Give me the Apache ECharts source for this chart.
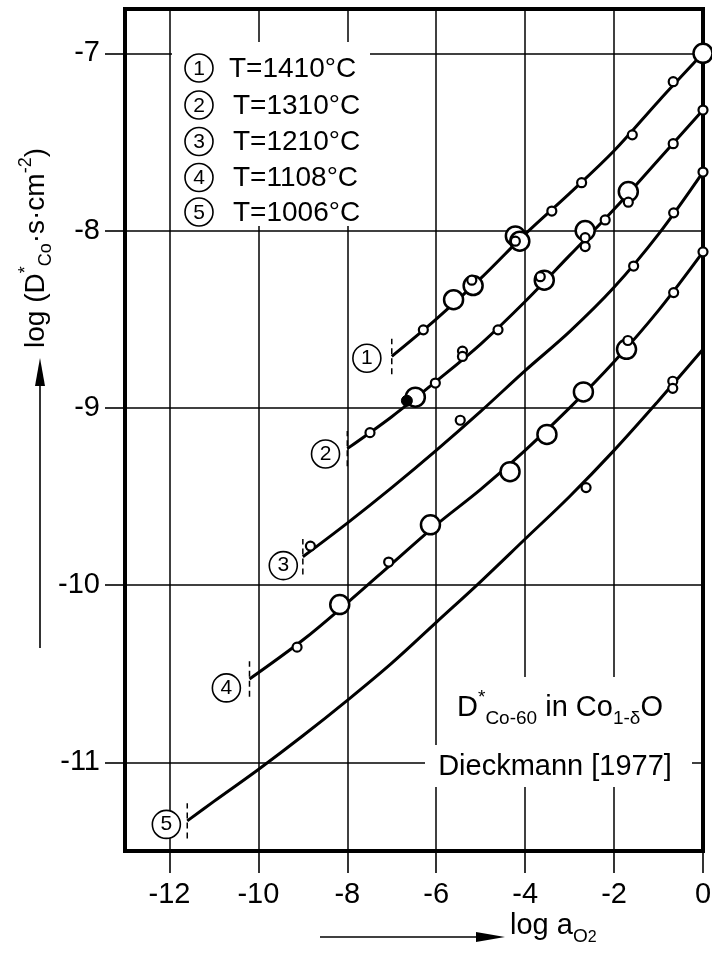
<!DOCTYPE html>
<html><head><meta charset="utf-8">
<script src="https://cdn.jsdelivr.net/npm/echarts@6/dist/echarts.min.js"></script>
<style>html,body{margin:0;padding:0;background:#fff}#c{width:712px;height:953px}</style>
</head><body><div id="c"></div>
<script>
// ---------- data ----------
const xTicks = [-12, -10, -8, -6, -4, -2, 0];
const yTicks = [-11, -10, -9, -8, -7];

// fitted curves (log a_O2 , log D*)
const curve1X = [-7, -6, -5, -4, -3, -2, -1, 0];
const curve1Y = [-8.71, -8.50, -8.27, -8.02, -7.79, -7.55, -7.27, -7.0];
const curve2X = [-8, -7, -6, -5, -4, -3, -2, -1, 0];
const curve2Y = [-9.23, -9.05, -8.85, -8.64, -8.40, -8.14, -7.88, -7.60, -7.32];
const curve3X = [-9, -8, -7, -6, -5, -4, -3, -2, -1, 0];
const curve3Y = [-9.84, -9.65, -9.45, -9.24, -9.02, -8.79, -8.57, -8.32, -8.02, -7.67];
const curve4X = [-10.2, -9, -8, -7, -6, -5, -4, -3, -2, -1, 0];
const curve4Y = [-10.53, -10.31, -10.10, -9.88, -9.66, -9.46, -9.24, -9.00, -8.74, -8.45, -8.12];
const curve5X = [-11.6, -11, -10, -9, -8, -7, -6, -5, -4, -3, -2, -1, 0];
const curve5Y = [-11.33, -11.22, -11.04, -10.85, -10.65, -10.44, -10.21, -9.98, -9.74, -9.50, -9.24, -8.96, -8.67];

// measured points
const c1Small = [[-0.67,-7.16],[-1.59,-7.46],[-2.73,-7.73],[-3.40,-7.89],[-4.22,-8.06],[-5.20,-8.28],[-6.29,-8.56]];
const c1Big = [[0,-7.0],[-4.22,-8.03],[-4.12,-8.06],[-5.17,-8.31],[-5.61,-8.39]];
const c2Small = [[0,-7.32],[-0.67,-7.51],[-1.68,-7.84],[-2.20,-7.94],[-2.65,-8.04],[-2.65,-8.09],[-3.66,-8.26],[-4.61,-8.56],[-5.41,-8.68],[-5.41,-8.71],[-6.02,-8.86],[-7.49,-9.14]];
const c2Big = [[-1.68,-7.78],[-2.65,-8.00],[-3.57,-8.28],[-6.47,-8.94]];
const c2Filled = [[-6.66,-8.96]];
const c3Small = [[0,-7.67],[-0.66,-7.90],[-1.56,-8.20],[-5.46,-9.07],[-8.83,-9.78]];
const c4Small = [[0,-8.12],[-0.66,-8.35],[-1.69,-8.62],[-7.07,-9.87],[-9.13,-10.35]];
const c4Big = [[-1.72,-8.67],[-2.69,-8.91],[-3.51,-9.15],[-4.34,-9.36],[-6.13,-9.66],[-8.17,-10.11]];
const c5Small = [[-0.68,-8.85],[-0.68,-8.89],[-2.63,-9.45]];

// curve number tags
const tagX = [-7.56, -8.49, -9.44, -10.72, -12.07];
const tagY = [-8.72, -9.26, -9.89, -10.58, -11.35];
const tagText = ['1', '2', '3', '4', '5'];

// legend
const legendNums = ['1', '2', '3', '4', '5'];
const legendTemps = ['T=1410°C', 'T=1310°C', 'T=1210°C', 'T=1108°C', 'T=1006°C'];

// ---------- build ----------
const FONT = 'Liberation Sans';
const curvesX = [curve1X, curve2X, curve3X, curve4X, curve5X];
const curvesY = [curve1Y, curve2Y, curve3Y, curve4Y, curve5Y];
const zip = (xs, ys) => xs.map((x, i) => [x, ys[i]]);

const series = [];
curvesX.forEach((xs, k) => {
  series.push({
    type: 'line', data: zip(xs, curvesY[k]), smooth: 0.35, symbol: 'none',
    lineStyle: { color: '#000', width: 3 }, z: 3, clip: false, silent: true
  });
  const x0 = xs[0], y0 = curvesY[k][0];
  series.push({
    type: 'line', data: [[x0, y0 - 0.1], [x0, y0 + 0.1]], symbol: 'none',
    lineStyle: { color: '#000', width: 1.5, type: [6, 4] }, z: 3, clip: false, silent: true
  });
});
const big = (d) => ({ type: 'scatter', data: d, symbolSize: 19, clip: false, z: 4, silent: true,
  itemStyle: { color: '#fff', borderColor: '#000', borderWidth: 2.5, opacity: 1 } });
const small = (d) => ({ type: 'scatter', data: d, symbolSize: 9, clip: false, z: 5, silent: true,
  itemStyle: { color: '#fff', borderColor: '#000', borderWidth: 2.2, opacity: 1 } });
[c1Big, c2Big, c4Big].forEach(d => series.push(big(d)));
[c1Small, c2Small, c3Small, c4Small, c5Small].forEach(d => series.push(small(d)));
series.push({ type: 'scatter', data: c2Filled, symbolSize: 11, clip: false, z: 6, silent: true,
  itemStyle: { color: '#000', borderColor: '#000', borderWidth: 1, opacity: 1 } });
series.push({
  type: 'scatter', clip: false, z: 6, symbolSize: 28, silent: true,
  data: tagX.map((x, i) => ({ value: [x, tagY[i]], name: tagText[i] })),
  itemStyle: { color: '#fff', borderColor: '#000', borderWidth: 1.6, opacity: 1 },
  label: { show: true, position: 'inside', formatter: p => p.name, color: '#000',
    fontSize: 21, fontFamily: FONT }
});

// legend graphic
const legendEls = [{ type: 'rect', shape: { x: 172, y: 42, width: 198, height: 184 },
  style: { fill: '#fff' }, z: 10 }];
const rowY = [68, 105, 141.5, 177.5, 212];
legendNums.forEach((n, i) => {
  legendEls.push({ type: 'circle', shape: { cx: 199, cy: rowY[i], r: 14 },
    style: { fill: '#fff', stroke: '#000', lineWidth: 1.6 }, z: 11 });
  legendEls.push({ type: 'text', x: 199, y: rowY[i] + 1, z: 12,
    style: { text: n, fill: '#000', font: '21px ' + FONT, align: 'center', verticalAlign: 'middle' } });
  legendEls.push({ type: 'text', x: 229 + (i > 0 ? 4 : 0), y: rowY[i] + 1, z: 12,
    style: { text: legendTemps[i], fill: '#000', font: '28px ' + FONT, align: 'left', verticalAlign: 'middle' } });
});

const richMain = { fontSize: 29, fontFamily: FONT, lineHeight: 40, fill: '#000' };
const richSub = { fontSize: 19, fontFamily: FONT, lineHeight: 20, verticalAlign: 'bottom', fill: '#000' };
const richSup = { fontSize: 19, fontFamily: FONT, lineHeight: 20, verticalAlign: 'top', fill: '#000' };
const yMain = { fontSize: 28, fontFamily: FONT, lineHeight: 38, fill: '#000' };
const ySub = { fontSize: 18, fontFamily: FONT, lineHeight: 19, verticalAlign: 'bottom', fill: '#000' };
const ySup = { fontSize: 18, fontFamily: FONT, lineHeight: 19, verticalAlign: 'top', fill: '#000' };

const graphic = legendEls.concat([
  { type: 'rect', shape: { x: 445, y: 677, width: 247, height: 110 }, style: { fill: '#fff' }, z: 10 },
  { type: 'rect', shape: { x: 425, y: 745, width: 267, height: 42 }, style: { fill: '#fff' }, z: 10 },
  { type: 'text', x: 560, y: 708, z: 12, style: {
      text: '{m|D}{sp|*}{sb|Co-60}{m| in Co}{sb|1-δ}{m|O}',
      rich: { m: richMain, sb: richSub, sp: richSup }, align: 'center', verticalAlign: 'middle' } },
  { type: 'text', x: 555, y: 767, z: 12, style: {
      text: 'Dieckmann [1977]', fill: '#000', font: '29px ' + FONT, align: 'center', verticalAlign: 'middle' } },
  // y title
  { type: 'text', x: 36, y: 248, rotation: Math.PI / 2, z: 12, style: {
      text: '{m|log (D}{sp|*}{sb|Co}{m|·s·cm}{sp|-2}{m|)}',
      rich: { m: yMain, sb: ySub, sp: ySup }, align: 'center', verticalAlign: 'middle' } },
  { type: 'line', shape: { x1: 40, y1: 648, x2: 40, y2: 384 }, style: { stroke: '#000', lineWidth: 1.6 }, z: 12 },
  { type: 'polygon', shape: { points: [[40, 358], [35, 386], [45, 386]] }, style: { fill: '#000' }, z: 12 },
  // x title
  { type: 'line', shape: { x1: 320, y1: 937, x2: 480, y2: 937 }, style: { stroke: '#000', lineWidth: 1.6 }, z: 12 },
  { type: 'polygon', shape: { points: [[505, 937], [476, 932], [476, 942]] }, style: { fill: '#000' }, z: 12 },
  { type: 'text', x: 510, y: 926, z: 12, style: {
      text: '{m|log a}{sb|O}{ss|2}',
      rich: { m: richMain, sb: richSub, ss: { fontSize: 16, fontFamily: FONT, lineHeight: 8, verticalAlign: 'bottom', fill: '#000', padding: [10, 0, 0, 0] } },
      align: 'left', verticalAlign: 'middle' } }
]);

const option = {
  animation: false,
  backgroundColor: '#fff',
  grid: { left: 125, right: 9, top: 9, bottom: 102, show: true, borderColor: '#000', borderWidth: 4,
    containLabel: false, outerBoundsMode: 'none' },
  xAxis: {
    type: 'value', min: -13, max: 0, minInterval: 2, maxInterval: 2, splitNumber: 6,
    axisLine: { show: false, onZero: false },
    axisTick: { show: true, customValues: xTicks, length: 22, lineStyle: { color: '#000', width: 1.6 } },
    axisLabel: { customValues: xTicks, fontSize: 29, fontFamily: FONT, color: '#000', margin: 29,
      formatter: v => String(v) },
    splitLine: { show: true, lineStyle: { color: '#000', width: 1.5 } }
  },
  yAxis: {
    type: 'value', min: -11.5, max: -6.75, interval: 0.5,
    axisLine: { show: false, onZero: false },
    axisTick: { show: true, customValues: yTicks, length: 20, lineStyle: { color: '#000', width: 1.6 } },
    axisLabel: { customValues: yTicks, fontSize: 29, fontFamily: FONT, color: '#000', margin: 25,
      formatter: v => String(v) },
    splitLine: { show: true, lineStyle: { color: '#000', width: 1.5 } }
  },
  graphic: graphic,
  series: series
};
const chart = echarts.init(document.getElementById('c'));
chart.setOption(option);
</script></body></html>
